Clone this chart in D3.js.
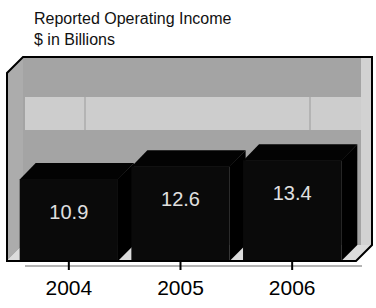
<!DOCTYPE html>
<html>
<head>
<meta charset="utf-8">
<script src="https://cdn.jsdelivr.net/npm/d3@7"></script>
<style>
    body { margin: 0; background: #ffffff; }
    svg { display: block; font-family: "Liberation Sans", Arial, sans-serif; }
</style>
</head>
<body>
<div id="chart"></div>
<script>

// chart data
const years = ["2004", "2005", "2006"];
const income = [10.9, 12.6, 13.4];
const titleLines = ["Reported Operating Income", "$ in Billions"];
const valueMax = 25;

class BarVis {

    constructor(parentElement, years, income) {
        this.parentElement = parentElement;
        this.years = years;
        this.income = income;

        this.initVis();
    }

    initVis() {
        let vis = this;

        vis.width = 376;
        vis.height = 308;
        vis.depth = 16;

        // plot box (front plane)
        vis.left = 7;
        vis.right = 372 - vis.depth;
        vis.bottom = 261;

        vis.svg = d3.select("#" + vis.parentElement)
            .append("svg")
            .attr("width", vis.width)
            .attr("height", vis.height);

        // scales
        vis.x = d3.scaleBand()
            .domain(vis.years)
            .range([13, 348])
            .paddingInner(0.12)
            .paddingOuter(0.06);

        vis.y = d3.scaleLinear()
            .domain([0, valueMax])
            .range([vis.bottom, 73]);

        // title
        vis.svg.append("g")
            .selectAll("text")
            .data(titleLines)
            .join("text")
            .attr("x", 34)
            .attr("y", (d, i) => 24 + i * 21)
            .attr("font-size", 16)
            .attr("fill", "#111")
            .text(d => d);

        vis.drawBox();
        vis.drawBars();
        vis.drawAxis();
    }

    drawBox() {
        let vis = this;
        let d = vis.depth;
        let top = vis.y(valueMax);

        //back wall
        vis.svg.append("rect")
            .attr("x", vis.left + d)
            .attr("y", top - d)
            .attr("width", vis.right - vis.left)
            .attr("height", vis.bottom - top)
            .attr("fill", "#a4a4a4");

        //light band on back wall
        vis.svg.append("rect")
            .attr("x", vis.left + d + 2)
            .attr("y", 97)
            .attr("width", vis.right - vis.left - 2)
            .attr("height", 33)
            .attr("fill", "#cdcdcd");

        vis.svg.append("g")
            .selectAll("line")
            .data([85, 310])
            .join("line")
            .attr("x1", d => d).attr("x2", d => d)
            .attr("y1", 97).attr("y2", 130)
            .attr("stroke", "#b4b4b4")
            .attr("stroke-width", 2);

        //left wall
        vis.svg.append("path")
            .attr("d", `M${vis.left},${top} L${vis.left + d},${top - d} L${vis.left + d},${vis.bottom - d} L${vis.left},${vis.bottom} Z`)
            .attr("fill", "#acacac");

        //floor
        vis.svg.append("path")
            .attr("d", `M${vis.left},${vis.bottom} L${vis.left + d},${vis.bottom - d} L${vis.right + d},${vis.bottom - d} L${vis.right},${vis.bottom} Z`)
            .attr("fill", "#dcdcdc");

        //right strip lighter
        vis.svg.append("rect")
            .attr("x", 361)
            .attr("y", top - d)
            .attr("width", vis.right + d - 361)
            .attr("height", vis.bottom - top)
            .attr("fill", "#d2d2d2");
    }

    drawBars() {
        let vis = this;
        let d = vis.depth;
        let bw = vis.x.bandwidth();

        vis.bars = vis.svg.append("g")
            .attr("class", "bars")
            .selectAll("g")
            .data(vis.years.map((yr, i) => ({year: yr, value: vis.income[i]})))
            .join("g");

        //side face
        vis.bars.append("path")
            .attr("d", b => {
                let x1 = vis.x(b.year) + bw;
                let yt = vis.y(b.value);
                return `M${x1},${yt} L${x1 + d},${yt - d} L${x1 + d},${vis.bottom - d} L${x1},${vis.bottom} Z`;
            })
            .attr("fill", "#000");

        //top face
        vis.bars.append("path")
            .attr("d", b => {
                let x0 = vis.x(b.year);
                let yt = vis.y(b.value);
                return `M${x0},${yt + 0.5} L${x0 + d},${yt - d} L${x0 + bw + d},${yt - d} L${x0 + bw},${yt + 0.5} Z`;
            })
            .attr("fill", "#030303");

        //front face
        vis.bars.append("rect")
            .attr("x", b => vis.x(b.year))
            .attr("y", b => vis.y(b.value))
            .attr("width", bw)
            .attr("height", b => vis.bottom - vis.y(b.value))
            .attr("fill", "#0a0a0a");

        //value labels
        vis.bars.append("text")
            .attr("x", b => vis.x(b.year) + bw / 2)
            .attr("y", b => vis.y(b.value) + 40)
            .attr("text-anchor", "middle")
            .attr("font-size", 20)
            .attr("fill", "#e0e0e0")
            .text(b => b.value.toFixed(1));

        //box outline
        let top = vis.y(valueMax);
        vis.svg.append("path")
            .attr("d", `M${vis.left},${vis.bottom} L${vis.left},${top} L${vis.left + d},${top - d} L${vis.right + d},${top - d} L${vis.right + d},${vis.bottom - d} L${vis.right},${vis.bottom} Z`)
            .attr("fill", "none")
            .attr("stroke", "#000")
            .attr("stroke-width", 2);
    }

    drawAxis() {
        let vis = this;

        //floor edge strip
        vis.svg.append("line")
            .attr("x1", vis.left + 18).attr("x2", vis.right + 6)
            .attr("y1", vis.bottom + 5).attr("y2", vis.bottom + 5)
            .attr("stroke", "#b4b4b4")
            .attr("stroke-width", 2);

        vis.xAxis = d3.axisBottom(vis.x)
            .tickSize(8)
            .tickPadding(10);

        let g = vis.svg.append("g")
            .attr("transform", `translate(0,${vis.bottom + 1})`)
            .call(vis.xAxis);

        g.select(".domain").remove();
        g.selectAll(".tick line")
            .attr("stroke", "#000")
            .attr("stroke-width", 2);
        g.selectAll(".tick text")
            .attr("font-size", 21)
            .attr("font-family", "Liberation Sans, Arial, sans-serif")
            .attr("fill", "#000");
    }
}

new BarVis("chart", years, income);

</script>
</body>
</html>
